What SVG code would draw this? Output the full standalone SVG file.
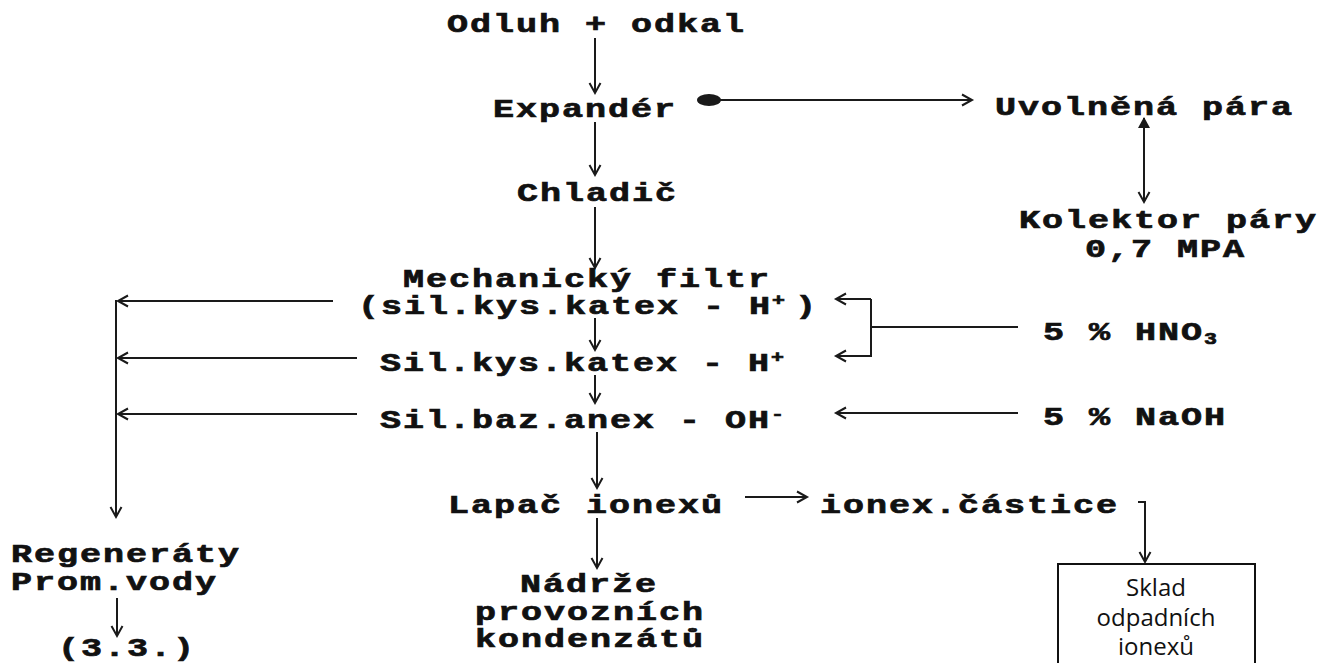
<svg xmlns="http://www.w3.org/2000/svg" width="1317" height="663" viewBox="0 0 1317 663">
<style>
.m{font-family:"Liberation Mono","Courier New",monospace;font-weight:bold;font-size:26px;letter-spacing:1.44px;fill:#111;stroke:#111;stroke-width:0.7}
.sup{font-size:16px;letter-spacing:7.44px}
.c{stroke:#1a1a1a;stroke-width:2;fill:none}
.b{font-family:"Open Sans","Liberation Sans",sans-serif;font-size:24px;fill:#111;text-anchor:middle}
</style>
<defs>
<marker id="a" markerWidth="14" markerHeight="14" refX="11" refY="7" orient="auto" markerUnits="userSpaceOnUse">
<path d="M1,1.5 L11,7 L1,12.5" fill="none" stroke="#1a1a1a" stroke-width="2"/>
</marker>
<marker id="af" markerWidth="14" markerHeight="14" refX="11" refY="7" orient="auto" markerUnits="userSpaceOnUse">
<path d="M1,1 L12,7 L1,13 Z" fill="#1a1a1a"/>
</marker>
</defs>
<rect width="1317" height="663" fill="#fff"/>

<g id="connectors">
<path class="c" d="M595,38 V93" marker-end="url(#a)"/>
<path class="c" d="M595,122 V175" marker-end="url(#a)"/>
<path class="c" d="M595,207 V268" marker-end="url(#a)"/>
<ellipse cx="709" cy="100" rx="12" ry="6" fill="#1a1a1a"/>
<path class="c" d="M709,100 H972" marker-end="url(#a)"/>
<path class="c" d="M1144,160 V118" marker-end="url(#af)"/>
<path class="c" d="M1144,160 V202" marker-end="url(#a)"/>
<path class="c" d="M595,318 V350" marker-end="url(#a)"/>
<path class="c" d="M595,375 V403" marker-end="url(#a)"/>
<path class="c" d="M597,432 V488" marker-end="url(#a)"/>
<path class="c" d="M597,518 V568" marker-end="url(#a)"/>
<path class="c" d="M333,301 H118" marker-end="url(#a)"/>
<path class="c" d="M357,358 H118" marker-end="url(#a)"/>
<path class="c" d="M357,414 H118" marker-end="url(#a)"/>
<path class="c" d="M116,300 V517" marker-end="url(#a)"/>
<path class="c" d="M117,598 V636" marker-end="url(#a)"/>
<path class="c" d="M871,299 H836" marker-end="url(#a)"/>
<path class="c" d="M871,299 V356 H836" marker-end="url(#a)"/>
<path class="c" d="M1018,327 H871"/>
<path class="c" d="M1018,413 H836" marker-end="url(#a)"/>
<path class="c" d="M745,497 H807" marker-end="url(#a)"/>
<path class="c" d="M1138,502 H1145 V562" marker-end="url(#a)"/>
</g>

<g id="n-odluh"><text class="m" transform="translate(447,32) scale(1.35,1)">Odluh + odkal</text></g>
<g id="n-expander"><text class="m" transform="translate(493,117) scale(1.35,1)">Expandér</text></g>
<g id="n-chladic"><text class="m" transform="translate(517,201) scale(1.35,1)">Chladič</text></g>
<g id="n-para"><text class="m" transform="translate(995,115) scale(1.35,1)">Uvolněná pára</text></g>
<g id="n-kolektor">
<text class="m" transform="translate(1019,228) scale(1.35,1)">Kolektor páry</text>
<text class="m" transform="translate(1085,257) scale(1.35,1)">0,7 MPA</text>
</g>
<g id="n-mech">
<text class="m" transform="translate(403,287) scale(1.35,1)">Mechanický filtr</text>
<text class="m" transform="translate(358,314) scale(1.35,1)">(sil.kys.katex - H<tspan class="sup" dy="-9">+</tspan><tspan dy="9">)</tspan></text>
</g>
<g id="n-katex"><text class="m" transform="translate(380,371) scale(1.35,1)">Sil.kys.katex - H<tspan class="sup" dy="-9">+</tspan></text></g>
<g id="n-anex"><text class="m" transform="translate(380,428) scale(1.35,1)">Sil.baz.anex - OH<tspan class="sup" dy="-9">-</tspan></text></g>
<g id="n-hno3"><text class="m" transform="translate(1043,340) scale(1.35,1)">5 % HNO<tspan class="sup" dy="4">3</tspan></text></g>
<g id="n-naoh"><text class="m" transform="translate(1043,425) scale(1.35,1)">5 % NaOH</text></g>
<g id="n-lapac"><text class="m" transform="translate(448,513) scale(1.35,1)">Lapač ionexů</text></g>
<g id="n-castice"><text class="m" transform="translate(820,513) scale(1.35,1)">ionex.částice</text></g>
<g id="n-nadrze">
<text class="m" transform="translate(520,592) scale(1.35,1)">Nádrže</text>
<text class="m" transform="translate(475,620) scale(1.35,1)">provozních</text>
<text class="m" transform="translate(475,647) scale(1.35,1)">kondenzátů</text>
</g>
<g id="n-regen">
<text class="m" transform="translate(11,562) scale(1.35,1)">Regeneráty</text>
<text class="m" transform="translate(11,590) scale(1.35,1)">Prom.vody</text>
</g>
<g id="n-33"><text class="m" transform="translate(58,656) scale(1.35,1)">(3.3.)</text></g>
<g id="n-sklad">
<rect x="1058" y="564" width="197" height="110" fill="#fff" stroke="#111" stroke-width="2"/>
<text class="b" x="1156" y="596">Sklad</text>
<text class="b" x="1156" y="626">odpadních</text>
<text class="b" x="1156" y="655">ionexů</text>
</g>
</svg>
